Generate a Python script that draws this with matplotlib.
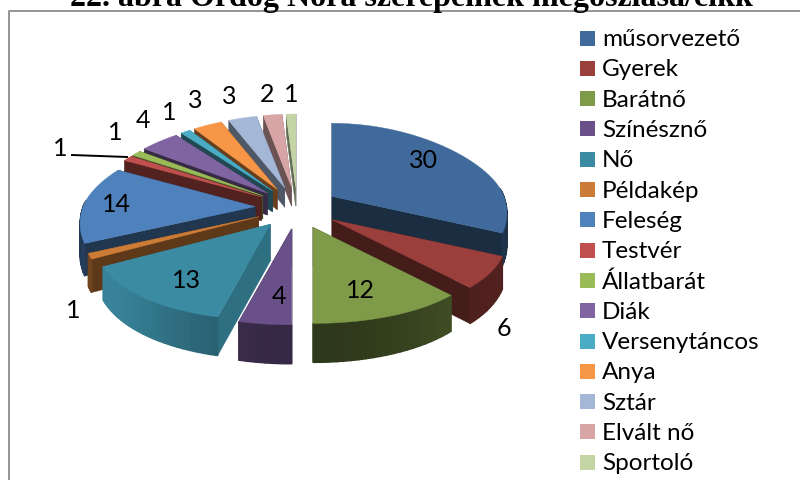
import numpy as np
import matplotlib
matplotlib.use("Agg")
import matplotlib.pyplot as plt
from matplotlib.patches import Polygon, Rectangle

categories = ["műsorvezető", "Gyerek", "Barátnő", "Színésznő", "Nő", "Példakép", "Feleség", "Testvér",
              "Állatbarát", "Diák", "Versenytáncos", "Anya", "Sztár", "Elvált nő", "Sportoló"]
values = [30, 6, 12, 4, 13, 1, 14, 1, 1, 4, 1, 3, 3, 2, 1]
colors = ["#3F6A9B", "#9A3F3C", "#7F9A48", "#6A5088", "#3B8BA3", "#CC7C37", "#4F81BD", "#C0504D",
          "#9BBB59", "#8064A2", "#4BACC6", "#F79646", "#A5B7D7", "#D7A5A5", "#C3D5A5"]
side_shade = [0.42, 0.44, 0.44, 0.62, 0.8, 0.46, 0.42, 0.42, 0.42, 0.42, 0.42, 0.42, 0.48, 0.5, 0.5]
label_pos = [(423, 160), (504, 328), (360, 291), (279, 296), (186, 280), (73, 311), (116, 204), (60, 148),
             (115, 132), (143, 121), (169, 112), (195, 101), (229, 96), (267, 95), (291, 95)]

title = "22. ábra Ördög Nóra szerepeinek megoszlása/cikk"
font = "Lato"

cx, cy = 297, 208
explode_x, explode_y = 42, 21


def project(theta, mid):
    # angle clockwise from the top, fake perspective: the front of the pie is bigger
    c = np.cos(theta)
    s = np.sin(theta)
    k = 0.16 if c > 0 else 0.19
    rx = 172 * (1 - k * c)
    ry = 73 if c > 0 else 96
    x = cx + explode_x * np.sin(mid) + rx * s
    y = cy - explode_y * np.cos(mid) - ry * c
    return x, y


def depth(theta):
    return 29 - 10 * np.cos(theta)


def shade(col, f):
    return tuple(np.array(matplotlib.colors.to_rgb(col)) * f)


fig = plt.figure(figsize=(8, 4.8), dpi=100)
ax = fig.add_axes([0, 0, 1, 1])
ax.set_xlim(0, 800)
ax.set_ylim(480, 0)
ax.axis("off")

# chart frame
ax.plot([800, 8.5, 8.5], [11, 11, 480], color="#8C8C8C", lw=1.3)

total = sum(values)
edges = np.cumsum([0] + values) / total * 2 * np.pi
mids = (edges[:-1] + edges[1:]) / 2

# back slices first
for i in np.argsort(-np.cos(mids)):
    a, b = edges[i], edges[i + 1]
    col = colors[i]
    side = shade(col, side_shade[i])
    mid = mids[i]
    zo = 2 + (1 - np.cos(mid))
    apex = (cx + explode_x * np.sin(mid), cy - explode_y * np.cos(mid))
    apex_low = (apex[0], apex[1] + depth(mid))
    for t in (a, b):
        p = project(t, mid)
        ax.add_patch(Polygon([apex, p, (p[0], p[1] + depth(t)), apex_low], closed=True,
                             facecolor=side, edgecolor=side, lw=0.3, zorder=zo))
    ts = np.linspace(a, b, max(4, int(np.degrees(b - a) / 2)))
    for t0, t1 in zip(ts[:-1], ts[1:]):
        if np.cos((t0 + t1) / 2) > 0.1:
            continue
        p0, p1 = project(t0, mid), project(t1, mid)
        f = side_shade[i] * (1.0 + 0.18 * np.cos(3 * (t0 + t1) / 2))
        c_seg = shade(col, min(f, 1))
        ax.add_patch(Polygon([p0, p1, (p1[0], p1[1] + depth(t1)), (p0[0], p0[1] + depth(t0))], closed=True,
                             facecolor=c_seg, edgecolor=c_seg, lw=1.0, zorder=zo))
    arc = [project(t, mid) for t in np.linspace(a, b, max(4, int(np.degrees(b - a))))]
    ax.add_patch(Polygon([apex] + arc, closed=True, facecolor=col, edgecolor=col, lw=0.3, zorder=zo + 0.01))

for v, (x, y) in zip(values, label_pos):
    ax.text(x, y, str(v), fontsize=18, family=font, ha="center", va="center", color="black", zorder=10)

# leader line of the Testvér label
ax.plot([72, 127], [155, 157], color="black", lw=1.4, zorder=9)

# legend
for i, name in enumerate(categories):
    y = 38 + i * 30.3
    ax.add_patch(Rectangle((580, y - 7.5), 15, 15, facecolor=colors[i], edgecolor="none", zorder=10))
    ax.text(602, y + 1.5, name, fontsize=17.5, family=font, ha="left", va="center", color="black", zorder=10)

ax.text(411, 6, title, fontsize=23, family="Liberation Serif", weight="bold", ha="center", va="baseline",
        color="black", clip_on=False)

fig.savefig("out.png", dpi=100)
